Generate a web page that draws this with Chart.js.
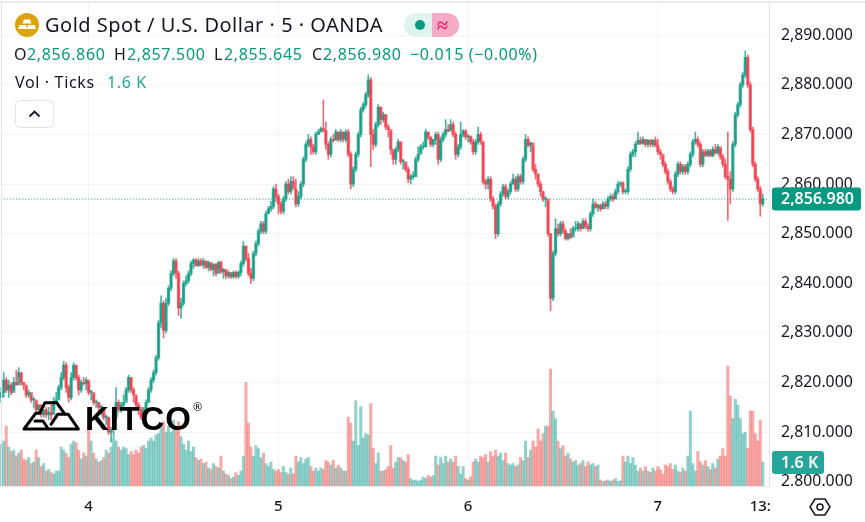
<!DOCTYPE html>
<html>
<head>
<meta charset="utf-8">
<script src="https://cdn.jsdelivr.net/npm/chart.js@4/dist/chart.umd.min.js"></script>
<style>
  html, body { margin: 0; padding: 0; background: #fff; }
  #wrap { position: relative; width: 865px; height: 522px; overflow: hidden; font-family: "Noto Sans", sans-serif; color: #131722; }
  canvas { position: absolute; left: 0; top: 0; }
  .txt { position: absolute; white-space: nowrap; }
  .row { font-size: 16px; line-height: 22px; letter-spacing: 0.65px; top: 43px; }
  .g { color: #089981; }
</style>
</head>
<body>
<div id="wrap">
  <canvas id="myChart" width="865" height="522"></canvas>
  <div class="txt" style="left:0;top:1px;width:865px;height:2px;background:#e8e9ec"></div>
  <div class="txt" style="left:1px;top:1px;width:1px;height:485px;background:#e0e3eb"></div>

  <svg class="txt" style="left:15px;top:13px" width="24" height="24" viewBox="0 0 24 24">
    <circle cx="12" cy="12" r="12" fill="#dba30c"/>
    <path d="M9 6.500h6l1.500 4h-9zM4.500 12h6.500l1 4h-9zM13 12h6.500l1.500 4h-9z" fill="#fff"/>
  </svg>
  <div class="txt" style="left:45px;top:11px;font-size:20px;line-height:28px;letter-spacing:0.5px">Gold Spot / U.S. Dollar · 5 · OANDA</div>

  <svg class="txt" style="left:404px;top:13px" width="55" height="24" viewBox="0 0 55 24">
    <path d="M12 0h16v24h-16a12 12 0 0 1 0-24z" fill="#dff3ef"/>
    <path d="M28 0h15a12 12 0 0 1 0 24h-15z" fill="#f5abc5"/>
    <circle cx="16" cy="12" r="5" fill="#089981"/>
    <text x="33" y="19" font-size="20" font-weight="700" fill="#e91e63" font-family="Noto Sans">≈</text>
  </svg>

  <div class="txt row" style="left:14px">O</div><div class="txt row g" style="left:27px">2,856.860</div>
  <div class="txt row" style="left:114px">H</div><div class="txt row g" style="left:127px">2,857.500</div>
  <div class="txt row" style="left:214px">L</div><div class="txt row g" style="left:224px">2,855.645</div>
  <div class="txt row" style="left:312px">C</div><div class="txt row g" style="left:323px">2,856.980</div>
  <div class="txt row g" style="left:410px">−0.015 (−0.00%)</div>
  <div class="txt row" style="left:15px;top:71px">Vol · Ticks</div>
  <div class="txt row" style="left:107px;top:71px;color:#26a69a">1.6 K</div>

  <svg class="txt" style="left:15px;top:100px" width="39" height="28" viewBox="0 0 39 28">
    <rect x="0.5" y="0.5" width="38" height="27" rx="4" fill="#fff" stroke="#e0e3eb"/>
    <path d="M14.500 16.500l5-5 5 5" fill="none" stroke="#131722" stroke-width="1.800"/>
  </svg>

  <!-- kitco logo, drawn in zoomed up coordinates -->
  <svg class="txt" style="left:15px;top:395px" width="65" height="40" viewBox="0 0 195 120">
    <path d="M27 102L62 55H74L90 23H125L150 58M27 102H100L84 78H60M100 102H190L160 58H128L108 88" fill="none" stroke="#000" stroke-width="9" stroke-linejoin="round" stroke-linecap="round"/>
  </svg>
  <div class="txt" style="left:85px;top:398.500px;font-size:33px;line-height:40px;font-weight:700;letter-spacing:0.8px;color:#000;font-family:'Liberation Sans',sans-serif">KITCO</div>
  <div class="txt" style="left:193px;top:400px;font-size:11px;line-height:13px;color:#000">®</div>

  <svg class="txt" style="left:808px;top:495px" width="24" height="24" viewBox="0 0 24 24">
    <path d="M7 4h10l5 8-5 8H7L2 12z" fill="none" stroke="#131722" stroke-width="1.500"/>
    <circle cx="12" cy="12" r="3" fill="none" stroke="#131722" stroke-width="1.500"/>
  </svg>
</div>

<script>
// prices are written as distance from 2800 to keep the rows short
const priceBase = 2800;

const closes = [
  18,20.5,18.5,19.5,18,20,19.5,22,20,19.5,
  17.5,18,16.5,16.5,14.5,15.5,13.5,14.5,13.5,14,
  13.5,16,16.5,19,21,23.5,19,17,21,23.5,
  21,18.5,20,19.8,20.5,18,18,16,16,15,
  15,13,13,10,10.5,13,16,14.5,15.5,16,
  18.5,21,18.5,17.5,15.5,15,13,14.5,16,18.5,
  20.5,22,25,32,36,30.5,36,39,42,44.5,
  42,35,36,40,40.5,42,44,44.7,43.5,44.5,
  43.7,44.5,43.2,44.2,42.8,43.8,42,44.2,42.3,42.8,
  41.5,42.2,41.3,42.2,41.4,42.2,44,47.5,45,42,
  41,46,48,50.5,52,50.5,54,55,55.5,59,
  57.5,56,54.5,57,60,58.5,60.5,59,56,57.5,
  60,65,68,69,67.5,66.5,70,70.5,71.2,70.8,
  68,66,69,68.8,70.5,69,70.5,69,70.5,66,
  60,63,66,70,75,76,78,81,70,68,
  72,75.5,73,74,71.5,71,67,65,67,68.5,
  64.5,64.5,63,61,61.5,61.5,65,66,67.5,67.5,
  70.5,69.5,68,69,70,65,69,70,71,70.7,
  72,70,66,67.5,70,70.7,69.5,69.7,68.5,66.5,
  68.5,70,68.5,60.5,60,61,57,55.5,50,56,
  58,59.5,57.5,58.5,60,61,59,61.5,60.5,65,
  69,67.8,68.3,63,62,60,58.5,57,57,50,
  37,46,51,50,52,50.5,49,50,49.3,51,
  51,52,51,52.5,51.5,51,54,56,55.3,55.7,
  55,56,55.5,57,57.5,57,58.5,60,60.2,58.5,
  58.5,63,66,66.5,68,68.8,68.2,69,68,68.8,
  68,68.8,67.8,66.5,66,64,62.5,60.5,59,58.5,
  62,64,62.5,63.5,62.5,64,66,68.5,69,68,
  64,66.5,65.8,66.7,65.7,67,66.3,67.5,65.5,64,
  61.5,61,59,68,74,76,80,82,85.5,80,
  71,64,61,59,56,57
];

const highs = [
  19,22,21,20.5,20,21,22.5,23,22,20,
  19,18.5,17.5,17,16,15.5,15.5,14.5,15,15,
  15.5,17,18,19.5,22,24.3,24,19.5,22,24,
  23.5,21.5,20.5,21,21,20,18.5,17.5,16.5,16,
  15.5,14.5,13.5,13,11,14,19,16.5,16,17.5,
  19,21.5,21,19,17,16,14.5,15,16.5,19,
  21,22.5,25.5,32.5,37.5,36.5,37,39.5,42.5,45,
  45,42.5,37,40.5,41.5,42.5,44.5,45,45,45,
  45,45,44.5,44.5,44,44,44,44.5,44.5,43,
  42.5,42.5,42,42.5,42.5,42.5,44.5,48.5,47.5,46,
  43,46.5,48.5,51,52.5,52.5,54.5,55.5,56.5,59.5,
  60,58,56.5,57.5,60.5,61,61.5,61.5,61,58.5,
  60.5,65.5,68.5,70,69.5,68,70.5,71,71.5,77,
  72.5,68.5,69.5,70,71,70.5,71,70.5,71,71,
  66.5,63.5,66.5,70.5,75.5,76.5,78.5,82,81.5,71,
  72.5,76,75.5,74.5,74,72,70.5,66.5,67.5,69,
  68.5,65,64,63.5,62,62.5,65.5,67.5,68,68.5,
  71,70.5,69.5,69,70.5,70.5,69.5,70.5,73,72,
  73,72.5,70.5,68,72.5,71,71,70,69.5,69,
  69,71.5,70.5,68.5,61,61.5,61.5,57.5,56,56.5,
  58.5,60,60,59,60.5,62,61.5,62,62,65.5,
  70,69.5,68.5,67.5,64,62,60.5,58.5,57.5,56.5,
  50,46.5,53,52,52.5,52.5,51,50,51,51.5,
  52.5,52.5,52,53,53,52,54.5,57,56.5,56,
  56,56.5,56.5,57.5,58,58,59,60.5,60.5,60.5,
  59,63.5,66.5,67,68.5,70.5,69.5,69.5,69,69,
  69,69,69.5,69,67,65.5,64.5,63,61,59.5,
  62.5,64.5,64.5,64,64,64.5,66.5,69,70.5,69.5,
  68.5,67,67,67,67,67.5,68,68,67,66,
  65,70.5,62.5,68.5,74.5,76.5,80.5,82.5,86.8,86,
  80.5,71.5,64.5,61.5,59.5,58
];

const lows = [
  16,17,18,17,17.5,18.5,19.5,21,19.5,18.5,
  17,17,16,15,14,14,13,13,13,12.5,
  12.5,14.5,16,17,18.5,20.5,18,16,16.5,20.5,
  20.5,17.5,18,19.5,18.5,17.5,16.5,15.5,15,14,
  13.5,12.5,11.5,9.5,8,9,12.5,14,14,15,
  16.5,18,18,16,15,13.5,12.5,12.5,14,16,
  18,20,21.5,24.5,31,29,30,35.5,38.5,41.5,
  41,33.5,33,35.5,39.5,40,41.5,43,43.5,43.5,
  43.5,43,43,42.5,42.5,41.5,41.5,43,42,41,
  41,41,41,41,41,41,41.5,43.5,44.5,41.5,
  40,40.5,45.5,47.5,50,50,50,54,54.5,55,
  56.5,54,54,54,56.5,58,58,60,55.4,55.5,
  57,59.5,64.5,67.5,66,66,66,70,70.5,70.5,
  67,65,65.5,68.5,69,68.5,68.5,68.5,68.5,65.5,
  59,59.5,62.5,65.5,69.5,74.5,75.5,77.5,63.5,67,
  67.5,71.5,72,72.5,71,69.5,66,64,64,66.5,
  64,63,62.5,60.3,60,61,61.5,64.5,66.5,67,
  67.5,69,67.5,67.5,68,64,64.5,68.5,69.5,70.5,
  71,69.5,65,65.5,67,69.5,69,68.5,68,66,
  66,68,68,60,59,59,56.5,55,49,49.5,
  55.5,57.5,57,57,58,60,58.5,58.5,60,60,
  64.5,67.5,66.5,62.5,61,59.5,57.5,56.5,55.5,49.5,
  34.5,36.5,45.5,49.5,49.5,50,48.7,48.7,49,50,
  50.5,50.5,50.5,51,51,50.5,50.5,53.5,55,54.5,
  54.5,55,55,55,56.5,56.5,57,58,59.5,58,
  58,58,62.5,65.5,65.5,68,68,68,67.5,67.5,
  67.5,67.5,67.5,66,65,63.5,62,60,58.5,58,
  58,61.5,62,62,62,62,63.5,65.5,68,67.5,
  63.5,63.5,65.5,65.5,65.5,65.5,66,66,65,63.5,
  61,52.7,56,58.5,67.5,73.5,75.5,79.5,81.5,79.5,
  70.5,63.5,60.5,58.5,53.5,55.5
];

// tick volume in thousands
const volumes = [
  2.8,3,4,2.6,2.3,2.4,2,2.2,2.4,1.8,
  1.7,1.9,1.5,1.6,2.4,1.9,1.3,1.5,1,1.1,
  0.9,0.8,1,1,2.6,2.4,2.2,1.9,2.8,3,
  2.9,2.4,1.8,2.2,2,4.6,3,2.2,1.8,1.6,
  1.7,1.9,2.4,2.2,2.6,3.2,3,2.6,2.4,2.6,
  2.5,2.1,2.3,2.1,2.4,2.2,2.6,2.7,2.5,3,
  3.2,3,3.4,3.5,4,4.3,3.6,4,3.6,4.4,
  3.8,4.3,3.3,2.8,2.4,3,2.3,2.6,1.9,1.7,
  1.8,1.5,1.6,1.2,1.1,1.5,1.3,1.2,2,1,
  0.8,0.7,0.5,0.6,0.9,0.7,1,2,6.9,4.2,
  2.6,2,2.7,2.5,1.9,2.2,1.5,1.3,1.6,1.1,
  1,1.1,0.9,1.3,0.9,0.8,1.2,0.8,2,1.6,
  1.9,1.5,1.8,1.9,1.3,1,1.2,1,1.2,1.1,
  1.7,1.6,1.4,1.7,1.2,1.4,1.2,1,1,4.6,
  4.2,3,5.7,2.7,5.3,3.2,3.5,3.4,5.5,2.5,
  1.5,2.2,1,1,1.1,1.3,2.7,1.2,1.6,1.9,
  1.9,1.7,1.6,2.1,0.5,0.35,0.4,0.3,0.4,0.6,
  0.5,0.7,0.6,0.7,2,1.4,1.9,1.5,2,1.6,
  1.8,1.6,2,1.3,0.8,1.3,0.5,0.4,0.6,1.6,
  1.8,1.6,2,1.9,2.1,1.6,2.3,2,2.4,2,
  2.2,1.7,2.2,1.5,1.4,1.5,1.3,1.4,1.9,1.7,
  3,1.9,2.4,3,2.6,3.8,3,3.5,4,4,
  7.8,5,4.5,3,2.5,2.7,2,2.2,1.8,1.6,
  1.7,1.4,1.5,1.7,1.3,1.6,1.4,1.5,1.3,1.4,
  0.4,0.3,0.35,0.4,0.3,0.4,0.5,0.3,0.35,2,
  1.6,2,1.5,1.9,1.4,1,1.2,1,1.3,1,
  0.9,1.2,1,1.3,1.1,0.8,1.4,1.3,1.5,1.1,
  1.4,1,0.9,1.2,1,2,5,1.5,1,2.3,
  1.6,1.4,1.7,1.3,1.1,1.5,1.2,1.8,2,2.5,
  2,8,6,4.5,5.8,5.4,4.5,3.5,3.6,2.5,
  5,5,3.5,3,4.4,1.6
];

const firstOpen = 17;
const lastPrice = 2856.98;
const lastVolume = 1.6;
const slots = 308; // a couple of empty slots right of the last candle
const timeTicks = { 35: '4', 111: '5', 187: '6', 263: '7', 304: '13:' };

const green = 'rgba(8,153,129,0.75)';
const red = 'rgba(242,54,69,0.75)';
const volGreen = 'rgba(38,166,154,0.5)';
const volRed = 'rgba(239,83,80,0.5)';

const labels = [];
for (let i = 0; i < slots; i++) labels.push(timeTicks[i] || '');

const opens = closes.map((c, i) => priceBase + (i === 0 ? firstOpen : closes[i - 1]));
const isUp = closes.map((c, i) => priceBase + c >= opens[i]);

const axisFont = { family: '"Noto Sans", sans-serif', size: 15.8 };

function noPadding(scale) {
  scale.paddingTop = 0;
  scale.paddingBottom = 0;
  scale.paddingLeft = 0;
  scale.paddingRight = 0;
}

const priceTags = {
  id: 'priceTags',
  afterDraw(chart) {
    const { ctx, chartArea, scales } = chart;
    // the 2,800 label is cut off by the time pane in the original
    ctx.fillStyle = '#fff';
    ctx.fillRect(chartArea.right + 1, chartArea.bottom, 96, 8);

    function tag(y, w, color, text) {
      ctx.fillStyle = color;
      ctx.beginPath();
      ctx.roundRect(772, y - 11.5, w, 23, 3);
      ctx.fill();
      ctx.fillStyle = '#fff';
      ctx.font = '600 16px "Noto Sans", sans-serif';
      ctx.textAlign = 'left';
      ctx.textBaseline = 'middle';
      ctx.fillText(text, 781, y + 0.5);
    }
    tag(scales.y.getPixelForValue(lastPrice), 89, '#089981', lastPrice.toLocaleString('en-US', { minimumFractionDigits: 3 }));
    tag(462.5, 52, '#26a69a', lastVolume + ' K');
  }
};

new Chart(document.getElementById('myChart'), {
  type: 'bar',
  data: {
    labels: labels,
    datasets: [
      {
        label: 'Vol',
        yAxisID: 'vol',
        data: volumes,
        backgroundColor: isUp.map(u => u ? volGreen : volRed),
        barThickness: 2.4,
        grouped: false,
        order: 4
      },
      {
        type: 'line',
        label: 'Last',
        data: labels.map(() => lastPrice),
        borderColor: '#089981',
        borderWidth: 1,
        borderDash: [1, 2],
        pointRadius: 0,
        order: 3
      },
      {
        label: 'Wick',
        data: highs.map((h, i) => [priceBase + lows[i], priceBase + h]),
        backgroundColor: isUp.map(u => u ? green : red),
        barThickness: 1,
        grouped: false,
        order: 2
      },
      {
        label: 'Body',
        data: closes.map((c, i) => [opens[i], priceBase + c]),
        backgroundColor: isUp.map(u => u ? green : red),
        barThickness: 2.6,
        minBarLength: 1,
        grouped: false,
        order: 1
      }
    ]
  },
  options: {
    responsive: false,
    animation: false,
    layout: { padding: { top: 2 } },
    plugins: { legend: { display: false }, tooltip: { enabled: false } },
    scales: {
      x: {
        afterFit(scale) { scale.height = 36; noPadding(scale); },
        grid: {
          offset: false,
          drawTicks: false,
          color: ctx => (ctx.tick && ctx.tick.label && ctx.tick.label !== '13:' && ctx.tick.label !== '') ? '#f2f3f5' : 'transparent'
        },
        border: { color: '#e9ebf0' },
        ticks: {
          autoSkip: false,
          maxRotation: 0,
          padding: 12,
          color: '#131722',
          font: { family: '"Noto Sans", sans-serif', size: 15, weight: '500' },
          callback(value, index) { return labels[index]; }
        }
      },
      y: {
        position: 'right',
        min: 2799.15,
        max: 2896.7,
        afterFit(scale) { scale.width = 96; noPadding(scale); },
        grid: { drawTicks: false, color: '#f2f3f5' },
        border: { color: '#e0e3eb' },
        ticks: {
          stepSize: 10,
          includeBounds: false,
          padding: 12,
          color: '#131722',
          font: axisFont,
          callback: v => v.toLocaleString('en-US', { minimumFractionDigits: 3 })
        }
      },
      vol: { display: false, min: 0, max: 32.3 }
    }
  },
  plugins: [priceTags]
});
</script>
</body>
</html>
